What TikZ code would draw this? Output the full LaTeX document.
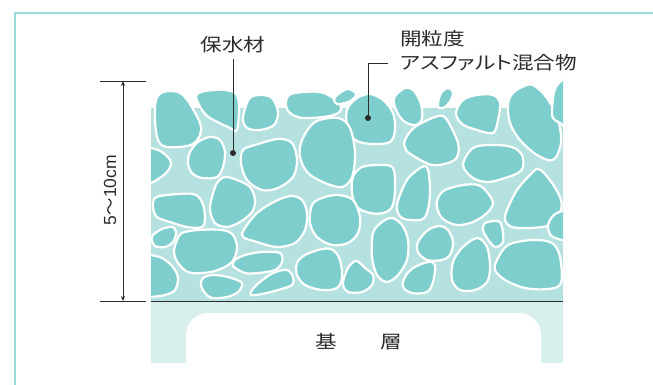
\documentclass[tikz,border=0pt]{standalone}
\usepackage{fontspec}
\usepackage{tikz}
\usetikzlibrary{arrows.meta,positioning}
\setsansfont{Liberation Sans}
\newfontfamily\jpfont[FakeStretch=1.2,RawFeature={+palt}]{Noto Sans CJK JP}
\newfontfamily\jpwide[FakeStretch=1.2]{Noto Sans CJK JP}
\newfontfamily\jpplain{Noto Sans CJK JP}
\definecolor{pvFrame}{HTML}{9ADCDC}
\definecolor{pvStone}{HTML}{7ECECD}
\definecolor{pvBinder}{HTML}{B5E2E0}
\definecolor{pvBase}{HTML}{D8EFED}
\definecolor{pvInk}{HTML}{2B2B2B}
\newcommand{\pebble}[1]{\filldraw[stone] plot[smooth cycle, tension=0.55] coordinates {#1};}

\begin{document}
\begin{tikzpicture}[
    x=1pt, y=-1pt, >={Stealth[length=5pt,width=4pt]},
    stone/.style={fill=pvStone, draw=white, line width=2.2pt, line join=round},
    lab/.style={font=\jpfont\fontsize{18}{20}\selectfont, text=pvInk, inner sep=0pt},
    baselab/.style={font=\jpwide\fontsize{18}{20}\selectfont, text=pvInk, inner sep=0pt},
    dimlab/.style={font=\sffamily\fontsize{17.5}{20}\selectfont, text=pvInk, inner sep=0pt, rotate=90},
    leader/.style={draw=pvInk, line width=0.8pt},
    pin/.style={circle, fill=pvInk, minimum size=6pt, inner sep=0pt},
    dim/.style={draw=pvInk, line width=0.8pt},
  ]
  \useasboundingbox (0,0) rectangle (653,385);
  \draw[pvFrame, line width=1.6pt] (15,385) -- (15,13) -- (653,13);

  \fill[pvBinder] (151,108) rectangle (563,301);
  \begin{scope}
    \clip (151,0) rectangle (563,301);
    \pebble{(156,100) (163,92) (178,92) (188,101) (200,123) (200,135) (191,145) (167,147) (158,140) (155,120)}
    \pebble{(196,96) (205,91) (225,90) (236,94) (239,107) (237,130) (230,128) (210,118) (202,110)}
    \pebble{(243,118) (249,99) (260,95) (272,98) (278,112) (274,125) (260,130) (247,128)}
    \pebble{(286,104) (291,94) (320,92) (337,101) (341,110) (330,116) (303,118) (290,113)}
    \pebble{(334,99) (341,92) (349,89) (356,94) (352,100) (345,103) (337,104)}
    \pebble{(347,110) (357,98) (370,94) (383,100) (393,113) (395,130) (390,142) (373,144) (357,141) (348,130)}
    \pebble{(394,98) (405,88) (414,91) (421,104) (422,119) (416,125) (405,122) (397,112)}
    \pebble{(438,103) (441,93) (448,88) (453,92) (451,100) (445,107) (439,108)}
    \pebble{(456,113) (463,100) (477,95) (493,95) (500,103) (498,120) (493,133) (477,130) (462,124)}
    \pebble{(508,105) (512,94) (522,87) (533,85) (547,98) (558,120) (561,143) (553,160) (537,155) (520,140) (510,123)}
    \pebble{(552,110) (554,92) (560,82) (572,78) (572,128) (560,123) (553,118)}
    \pebble{(140,147) (151,148) (162,152) (171,162) (166,173) (151,183) (140,183)}
    \pebble{(188,163) (190,152) (198,142) (210,137) (220,140) (225,152) (223,167) (217,177) (202,178) (192,173)}
    \pebble{(241,163) (243,150) (255,145) (278,139) (292,143) (297,160) (293,177) (278,188) (262,190) (247,180)}
    \pebble{(300,157) (302,140) (315,122) (338,118) (350,128) (355,153) (352,177) (342,187) (325,183) (308,173)}
    \pebble{(405,140) (415,127) (438,116) (447,120) (458,143) (457,157) (448,163) (432,165) (417,158) (406,150)}
    \pebble{(463,165) (473,148) (492,145) (512,147) (522,155) (523,167) (518,173) (505,178) (488,182) (473,178)}
    \pebble{(352,193) (353,177) (362,167) (380,165) (393,168) (395,190) (392,207) (383,213) (370,213) (357,207)}
    \pebble{(397,205) (407,180) (422,167) (428,170) (430,193) (427,213) (420,220) (402,218)}
    \pebble{(437,208) (438,198) (445,190) (463,185) (478,185) (487,192) (493,203) (487,213) (473,222) (457,225) (443,219)}
    \pebble{(505,220) (507,210) (517,190) (530,175) (539,169) (552,183) (561,200) (560,213) (550,225) (530,228) (512,227)}
    \pebble{(548,228) (550,220) (557,213) (572,211) (572,239) (553,237)}
    \pebble{(153,207) (155,198) (167,195) (193,194) (202,202) (205,217) (202,227) (187,227) (170,222) (157,217)}
    \pebble{(210,210) (212,197) (217,183) (225,177) (237,180) (250,187) (255,200) (252,212) (240,222) (227,227) (215,223)}
    \pebble{(242,235) (255,215) (272,203) (290,196) (302,200) (307,213) (305,230) (295,243) (277,247) (257,242)}
    \pebble{(310,223) (312,205) (322,198) (338,195) (353,200) (360,217) (358,233) (348,243) (332,245) (317,237)}
    \pebble{(152,240) (153,235) (162,229) (173,227) (176,233) (173,242) (165,247) (155,246)}
    \pebble{(174,252) (177,240) (182,233) (198,230) (222,230) (233,235) (237,248) (232,262) (218,270) (203,273) (188,272) (178,263)}
    \pebble{(233,266) (235,260) (245,255) (262,252) (280,253) (282,262) (275,270) (258,273) (245,273)}
    \pebble{(297,263) (305,255) (322,249) (333,250) (340,260) (342,277) (337,288) (322,290) (305,285) (297,275)}
    \pebble{(343,285) (345,275) (350,265) (357,261) (365,268) (373,275) (372,285) (362,292) (348,292)}
    \pebble{(201,285) (203,278) (213,275) (228,277) (242,283) (238,292) (227,297) (212,298) (205,293)}
    \pebble{(251,295) (252,290) (260,282) (273,273) (287,270) (293,277) (292,285) (278,290) (262,294)}
    \pebble{(140,255) (150,255) (162,258) (173,267) (178,278) (175,290) (165,295) (150,297) (140,297)}
    \pebble{(372,257) (373,233) (382,222) (392,218) (402,225) (408,240) (407,260) (398,275) (387,282) (377,275)}
    \pebble{(418,252) (418,242) (428,230) (440,226) (448,230) (453,242) (450,255) (442,260) (427,260)}
    \pebble{(483,230) (485,223) (498,221) (502,227) (503,242) (495,247) (487,238)}
    \pebble{(452,280) (453,262) (462,248) (477,238) (487,247) (490,267) (487,282) (475,290) (460,290)}
    \pebble{(403,287) (405,277) (413,268) (428,262) (435,265) (433,282) (427,292) (412,293)}
    \pebble{(495,270) (497,260) (508,245) (532,240) (552,243) (560,257) (561,283) (548,289) (525,288) (505,280)}
  \end{scope}

  \fill[pvBase] (151,301) rectangle (563,363);
  \begin{scope}
    \clip (151,301) rectangle (563,363);
    \fill[white, rounded corners=22pt] (186,313) rectangle (541,400);
  \end{scope}
  \draw[pvInk, line width=0.8pt] (151,301) -- (563,301);
  \node[baselab] (base) at (359,342) {基　　層};

  \draw[dim] (100,81) -- (146,81);
  \draw[dim] (100,301) -- (146,301);
  \coordinate (dimTop) at (123,81);
  \coordinate (dimBot) at (123,301);
  \draw[dim, <->] (dimTop) -- (dimBot);
  \node[dimlab] (depth) at (110,190) {5{\jpplain 〜}10cm};

  \node[pin] (waterDot) at (233,153) {};
  \node[pin] (stoneDot) at (368,118) {};
  \node[lab] (water) at (233,45) {保水材};
  \node[lab, anchor=west] (mixB) at (400,63) {アスファルト混合物};
  \node[lab, above=7pt of mixB.north west, anchor=south west] (mixA) {開粒度};
  \draw[leader, shorten <=6pt] (water) -- (waterDot);
  \draw[leader, shorten <=12pt] (mixB.west) -| (stoneDot);
\end{tikzpicture}
\end{document}
